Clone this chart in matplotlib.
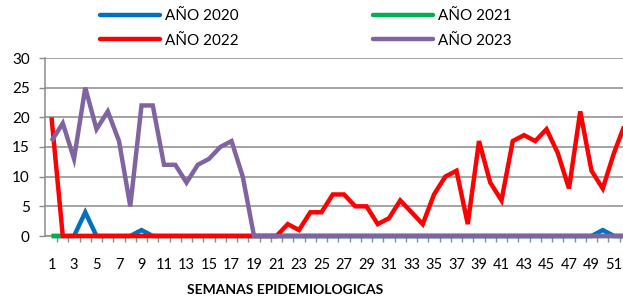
import numpy as np
import matplotlib
matplotlib.use("Agg")
import matplotlib.pyplot as plt
from matplotlib.ticker import FixedLocator

plt.rcParams['font.family'] = ['Lato', 'DejaVu Sans']

weeks = list(range(1, 53))
anio_2020 = [0, 0, 0, 4, 0, 0, 0, 0, 1, 0] + [0] * 39 + [1, 0, 0]
anio_2021 = [0] * 52
anio_2022 = [20, 0, 0, 0, 0, 0, 0, 0, 0, 0,
             0, 0, 0, 0, 0, 0, 0, 0, 0, 0,
             0, 2, 1, 4, 4, 7, 7, 5, 5, 2,
             3, 6, 4, 2, 7, 10, 11, 2, 16, 9,
             6, 16, 17, 16, 18, 14, 8, 21, 11, 8,
             14, 19]
anio_2023 = [16, 19, 13, 25, 18, 21, 16, 5, 22, 22,
             12, 12, 9, 12, 13, 15, 16, 10, 0] + [0] * 33
labels = ["AÑO 2020", "AÑO 2021", "AÑO 2022", "AÑO 2023"]
colors = ["#0070C0", "#00B050", "#FF0000", "#8064A2"]
xlabel = "SEMANAS EPIDEMIOLOGICAS"

fig = plt.figure(figsize=(6.23, 2.96), dpi=100)
W, H = 623, 296
ax = fig.add_axes([45 / W, (H - 236) / H, (W - 45) / W, (236 - 58) / H])

lines = []
for data, lab, col in zip([anio_2020, anio_2021, anio_2022, anio_2023], labels, colors):
    ln, = ax.plot(weeks, data, color=col, lw=3.2, label=lab, solid_joinstyle='miter',
                  solid_capstyle='butt', clip_on=False, zorder=3)
    lines.append(ln)

ax.set_xlim(0.42, 51.8)
ax.set_ylim(0, 30)
ax.set_yticks(range(0, 31, 5))
ax.yaxis.grid(True, color="#8C8C8C", lw=1.1)
ax.set_axisbelow(True)
for s in ['top', 'right']:
    ax.spines[s].set_visible(False)
for s in ['left', 'bottom']:
    ax.spines[s].set_color("#8C8C8C")
    ax.spines[s].set_linewidth(1.1)

odd = [w for w in weeks if w % 2 == 1]
ax.set_xticks(odd)
ax.set_xticklabels([str(w) for w in odd])
ax.xaxis.set_minor_locator(FixedLocator(np.arange(1.5, 52, 1)))
ax.tick_params(axis='x', which='major', length=0, pad=16, labelsize=10.5)
ax.tick_params(axis='x', which='minor', length=4, color="#8C8C8C", width=1)
ax.tick_params(axis='y', length=4, color="#8C8C8C", width=1, pad=7, labelsize=11)

fig.text(285 / W, 1.5 / H, xlabel, ha='center', va='baseline', fontsize=10, fontweight='bold')

order = [0, 2, 1, 3]
leg = fig.legend(handles=[lines[i] for i in order], labels=[labels[i] for i in order],
                 ncol=2, loc='upper left',
                 bbox_to_anchor=(100 / W, 1.0 - 9 / H), frameon=False,
                 borderpad=0, borderaxespad=0, handlelength=3.9, handletextpad=0.35,
                 columnspacing=8.8, labelspacing=0.7, fontsize=11)
for h in leg.get_lines():
    h.set_solid_capstyle('round')
    h.set_linewidth(3.2)

fig.savefig("out.png", dpi=100)
